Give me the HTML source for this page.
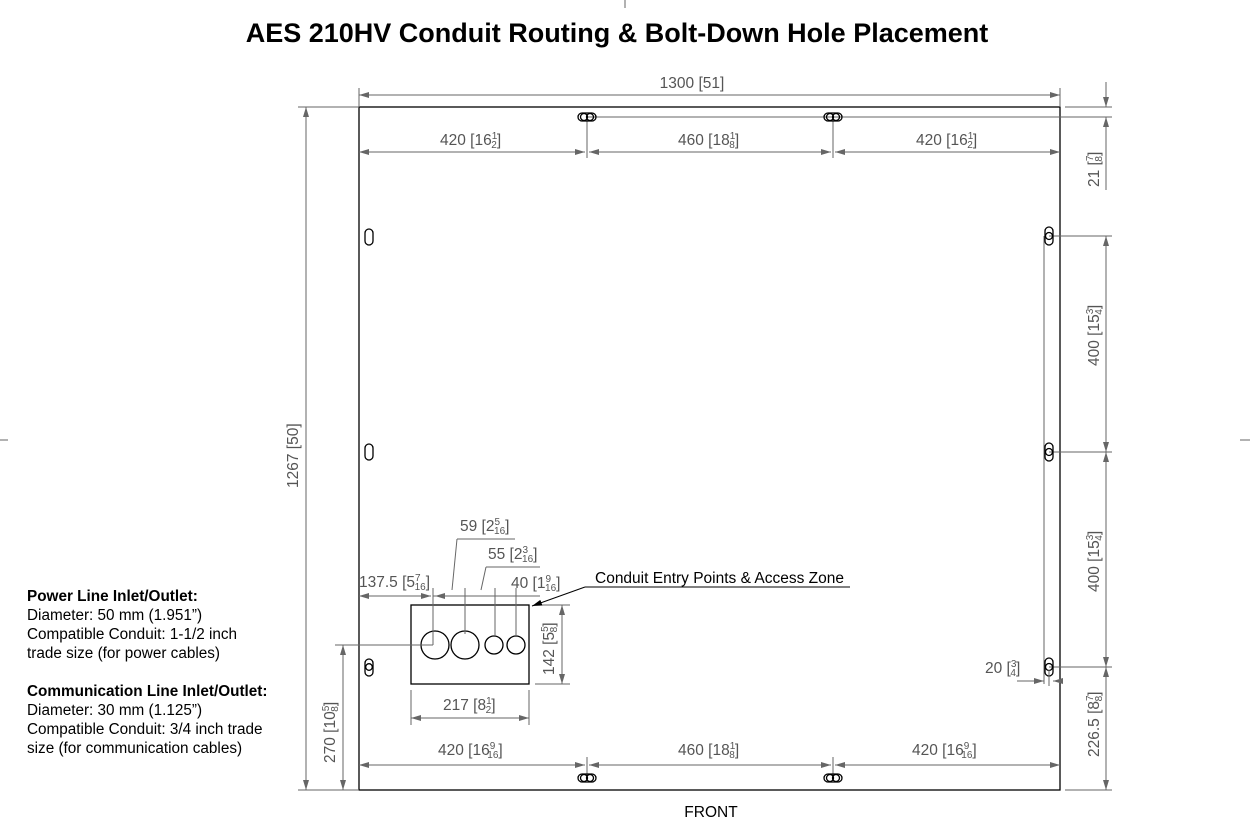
<!DOCTYPE html>
<html><head><meta charset="utf-8"><style>
body{margin:0;background:#fff;}
svg{display:block;font-family:"Liberation Sans",Arial,sans-serif;}
.d{stroke:#666;stroke-width:1;fill:none}
.t{fill:#555;font-size:15.5px}
.k{stroke:#000;stroke-width:1.3;fill:none}
</style></head><body>
<svg width="1250" height="824" viewBox="0 0 1250 824" xmlns="http://www.w3.org/2000/svg">
<defs>
<marker id="a" viewBox="0 0 10 6" refX="10" refY="3" markerWidth="10" markerHeight="6" orient="auto-start-reverse" markerUnits="userSpaceOnUse"><path d="M0,0 L10,3 L0,6 z" fill="#666"/></marker>
<marker id="b" viewBox="0 0 10 6" refX="10" refY="3" markerWidth="10" markerHeight="6" orient="auto" markerUnits="userSpaceOnUse"><path d="M0,0 L10,3 L0,6 z" fill="#000"/></marker>
</defs>
<text x="617" y="42" text-anchor="middle" font-size="27" font-weight="bold" fill="#000">AES 210HV Conduit Routing &amp; Bolt-Down Hole Placement</text>
<line x1="625" y1="0" x2="625" y2="8" class="d"/>
<line x1="0" y1="440" x2="8" y2="440" class="d"/>
<line x1="1240" y1="440" x2="1250" y2="440" class="d"/>

<rect x="359" y="107" width="701" height="683" class="k"/>

<line x1="359" y1="88" x2="359" y2="107" class="d"/><line x1="1060" y1="88" x2="1060" y2="107" class="d"/>
<line x1="359" y1="95" x2="1060" y2="95" class="d" marker-start="url(#a)" marker-end="url(#a)"/>
<text x="692" y="88" class="t" text-anchor="middle">1300 [51]</text>

<line x1="587" y1="117" x2="1112" y2="117" class="d"/>
<line x1="587" y1="117" x2="587" y2="158" class="d"/><line x1="833" y1="117" x2="833" y2="158" class="d"/>
<rect x="578" y="113" width="18" height="8" rx="4" class="k" fill="#fff"/><circle cx="584" cy="117" r="3.5" class="k"/><circle cx="590" cy="117" r="3.5" class="k"/>
<rect x="824" y="113" width="18" height="8" rx="4" class="k" fill="#fff"/><circle cx="830" cy="117" r="3.5" class="k"/><circle cx="836" cy="117" r="3.5" class="k"/>
<line x1="359" y1="152" x2="585" y2="152" class="d" marker-start="url(#a)" marker-end="url(#a)"/>
<line x1="589" y1="152" x2="831" y2="152" class="d" marker-start="url(#a)" marker-end="url(#a)"/>
<line x1="835" y1="152" x2="1060" y2="152" class="d" marker-start="url(#a)" marker-end="url(#a)"/>
<text x="440" y="145" class="t">420 [16<tspan font-size="10" dy="-6">1</tspan><tspan font-size="10" dx="-6" dy="9">2</tspan><tspan dy="-3">]</tspan></text>
<text x="678" y="145" class="t">460 [18<tspan font-size="10" dy="-6">1</tspan><tspan font-size="10" dx="-6" dy="9">8</tspan><tspan dy="-3">]</tspan></text>
<text x="916" y="145" class="t">420 [16<tspan font-size="10" dy="-6">1</tspan><tspan font-size="10" dx="-6" dy="9">2</tspan><tspan dy="-3">]</tspan></text>

<line x1="1065" y1="107" x2="1112" y2="107" class="d"/>
<line x1="1106" y1="82" x2="1106" y2="107" class="d" marker-end="url(#a)"/>
<line x1="1106" y1="117" x2="1106" y2="190" class="d" marker-start="url(#a)"/>
<text transform="translate(1099,187) rotate(-90)" class="t">21 [<tspan font-size="10" dy="-6">7</tspan><tspan font-size="10" dx="-6" dy="9">8</tspan><tspan dy="-3">]</tspan></text>
<line x1="1049" y1="236" x2="1112" y2="236" class="d"/>
<line x1="1049" y1="452" x2="1112" y2="452" class="d"/>
<line x1="1049" y1="667" x2="1112" y2="667" class="d"/>
<line x1="1065" y1="790" x2="1112" y2="790" class="d"/>
<line x1="1044" y1="236" x2="1044" y2="684" class="d"/>
<line x1="1106" y1="236" x2="1106" y2="452" class="d" marker-start="url(#a)" marker-end="url(#a)"/>
<line x1="1106" y1="452" x2="1106" y2="667" class="d" marker-start="url(#a)" marker-end="url(#a)"/>
<line x1="1106" y1="667" x2="1106" y2="790" class="d" marker-start="url(#a)" marker-end="url(#a)"/>
<text transform="translate(1099,366) rotate(-90)" class="t">400 [15<tspan font-size="10" dy="-6">3</tspan><tspan font-size="10" dx="-6" dy="9">4</tspan><tspan dy="-3">]</tspan></text>
<text transform="translate(1099,592) rotate(-90)" class="t">400 [15<tspan font-size="10" dy="-6">3</tspan><tspan font-size="10" dx="-6" dy="9">4</tspan><tspan dy="-3">]</tspan></text>
<text transform="translate(1099,757) rotate(-90)" class="t">226.5 [8<tspan font-size="10" dy="-6">7</tspan><tspan font-size="10" dx="-6" dy="9">8</tspan><tspan dy="-3">]</tspan></text>
<g>
<rect x="1045" y="227" width="8" height="18" rx="4" class="k" fill="#fff"/><circle cx="1049" cy="236" r="3.5" class="k"/>
<rect x="1045" y="443" width="8" height="18" rx="4" class="k" fill="#fff"/><circle cx="1049" cy="452" r="3.5" class="k"/>
<rect x="1045" y="658" width="8" height="18" rx="4" class="k" fill="#fff"/><circle cx="1049" cy="667" r="3.5" class="k"/>
</g>
<text x="985" y="673" class="t">20 [<tspan font-size="10" dy="-6">3</tspan><tspan font-size="10" dx="-6" dy="9">4</tspan><tspan dy="-3">]</tspan></text>
<line x1="1017" y1="681" x2="1044" y2="681" class="d" marker-end="url(#a)"/>
<line x1="1049" y1="670" x2="1049" y2="686" class="d"/>
<line x1="1063" y1="681" x2="1053" y2="681" class="d" marker-end="url(#a)"/>

<line x1="298" y1="107" x2="359" y2="107" class="d"/><line x1="298" y1="790" x2="359" y2="790" class="d"/>
<line x1="306" y1="107" x2="306" y2="790" class="d" marker-start="url(#a)" marker-end="url(#a)"/>
<text transform="translate(298,488) rotate(-90)" class="t">1267 [50]</text>
<rect x="365" y="229" width="8" height="16" rx="4" class="k"/>
<rect x="365" y="444" width="8" height="16" rx="4" class="k"/>
<rect x="365" y="659" width="8" height="17" rx="4" class="k"/><circle cx="369" cy="667" r="3.3" class="k"/>

<line x1="587" y1="757" x2="587" y2="778" class="d"/><line x1="833" y1="757" x2="833" y2="778" class="d"/>
<line x1="359" y1="765" x2="585" y2="765" class="d" marker-start="url(#a)" marker-end="url(#a)"/>
<line x1="589" y1="765" x2="831" y2="765" class="d" marker-start="url(#a)" marker-end="url(#a)"/>
<line x1="835" y1="765" x2="1060" y2="765" class="d" marker-start="url(#a)" marker-end="url(#a)"/>
<text x="438" y="755" class="t">420 [16<tspan font-size="10" dy="-6">9</tspan><tspan font-size="10" dx="-8" dy="9">16</tspan><tspan dy="-3">]</tspan></text>
<text x="678" y="755" class="t">460 [18<tspan font-size="10" dy="-6">1</tspan><tspan font-size="10" dx="-6" dy="9">8</tspan><tspan dy="-3">]</tspan></text>
<text x="912" y="755" class="t">420 [16<tspan font-size="10" dy="-6">9</tspan><tspan font-size="10" dx="-8" dy="9">16</tspan><tspan dy="-3">]</tspan></text>
<rect x="578" y="774" width="18" height="8" rx="4" class="k" fill="#fff"/><circle cx="584" cy="778" r="3.5" class="k"/><circle cx="590" cy="778" r="3.5" class="k"/>
<rect x="824" y="774" width="18" height="8" rx="4" class="k" fill="#fff"/><circle cx="830" cy="778" r="3.5" class="k"/><circle cx="836" cy="778" r="3.5" class="k"/>
<text x="711" y="817" font-size="15.5" text-anchor="middle" fill="#000">FRONT</text>

<rect x="411" y="605" width="118" height="79" class="k"/>
<circle cx="435" cy="645" r="14" class="k"/><circle cx="465" cy="645" r="14" class="k"/>
<circle cx="494" cy="645" r="9" class="k"/><circle cx="516" cy="645" r="9" class="k"/>
<line x1="433" y1="588" x2="433" y2="645" class="d"/><line x1="465" y1="588" x2="465" y2="634" class="d"/>
<line x1="495" y1="588" x2="495" y2="636" class="d"/><line x1="516" y1="588" x2="516" y2="636" class="d"/>
<line x1="359" y1="596" x2="431" y2="596" class="d" marker-start="url(#a)" marker-end="url(#a)"/>
<line x1="433" y1="596" x2="540" y2="596" class="d"/>
<line x1="449" y1="596" x2="435" y2="596" class="d" marker-end="url(#a)"/>
<line x1="452" y1="590" x2="457" y2="539" class="d"/><line x1="457" y1="539" x2="515" y2="539" class="d"/>
<line x1="481" y1="590" x2="486" y2="567" class="d"/><line x1="486" y1="567" x2="540" y2="567" class="d"/>
<text x="359" y="587" class="t">137.5 [5<tspan font-size="10" dy="-6">7</tspan><tspan font-size="10" dx="-6" dy="9">16</tspan><tspan dy="-3">]</tspan></text>
<text x="460" y="531" class="t">59 [2<tspan font-size="10" dy="-6">5</tspan><tspan font-size="10" dx="-6" dy="9">16</tspan><tspan dy="-3">]</tspan></text>
<text x="488" y="559" class="t">55 [2<tspan font-size="10" dy="-6">3</tspan><tspan font-size="10" dx="-6" dy="9">16</tspan><tspan dy="-3">]</tspan></text>
<text x="511" y="588" class="t">40 [1<tspan font-size="10" dy="-6">9</tspan><tspan font-size="10" dx="-6" dy="9">16</tspan><tspan dy="-3">]</tspan></text>
<line x1="535" y1="605" x2="570" y2="605" class="d"/><line x1="535" y1="684" x2="570" y2="684" class="d"/>
<line x1="562" y1="605" x2="562" y2="684" class="d" marker-start="url(#a)" marker-end="url(#a)"/>
<text transform="translate(554,675) rotate(-90)" class="t">142 [5<tspan font-size="10" dy="-6">5</tspan><tspan font-size="10" dx="-6" dy="9">8</tspan><tspan dy="-3">]</tspan></text>
<line x1="411" y1="690" x2="411" y2="725" class="d"/><line x1="529" y1="690" x2="529" y2="725" class="d"/>
<line x1="411" y1="718" x2="529" y2="718" class="d" marker-start="url(#a)" marker-end="url(#a)"/>
<text x="443" y="710" class="t">217 [8<tspan font-size="10" dy="-6">1</tspan><tspan font-size="10" dx="-6" dy="9">2</tspan><tspan dy="-3">]</tspan></text>
<line x1="335" y1="645" x2="433" y2="645" class="d"/>
<line x1="343" y1="645" x2="343" y2="790" class="d" marker-start="url(#a)" marker-end="url(#a)"/>
<text transform="translate(335,763) rotate(-90)" class="t">270 [10<tspan font-size="10" dy="-6">5</tspan><tspan font-size="10" dx="-6" dy="9">8</tspan><tspan dy="-3">]</tspan></text>
<text x="595" y="583" font-size="15.5" fill="#000">Conduit Entry Points &amp; Access Zone</text>
<line x1="850" y1="587" x2="585" y2="587" stroke="#000" stroke-width="1"/>
<line x1="585" y1="587" x2="532" y2="606" stroke="#000" stroke-width="1" marker-end="url(#b)"/>

<g font-size="15.3" fill="#000">
<text x="27" y="601" font-weight="bold">Power Line Inlet/Outlet:</text>
<text x="27" y="620">Diameter: 50 mm (1.951”)</text>
<text x="27" y="639">Compatible Conduit: 1-1/2 inch</text>
<text x="27" y="658">trade size (for power cables)</text>
<text x="27" y="696" font-weight="bold">Communication Line Inlet/Outlet:</text>
<text x="27" y="715">Diameter: 30 mm (1.125”)</text>
<text x="27" y="734">Compatible Conduit: 3/4 inch trade</text>
<text x="27" y="753">size (for communication cables)</text>
</g>
</svg>
</body></html>
